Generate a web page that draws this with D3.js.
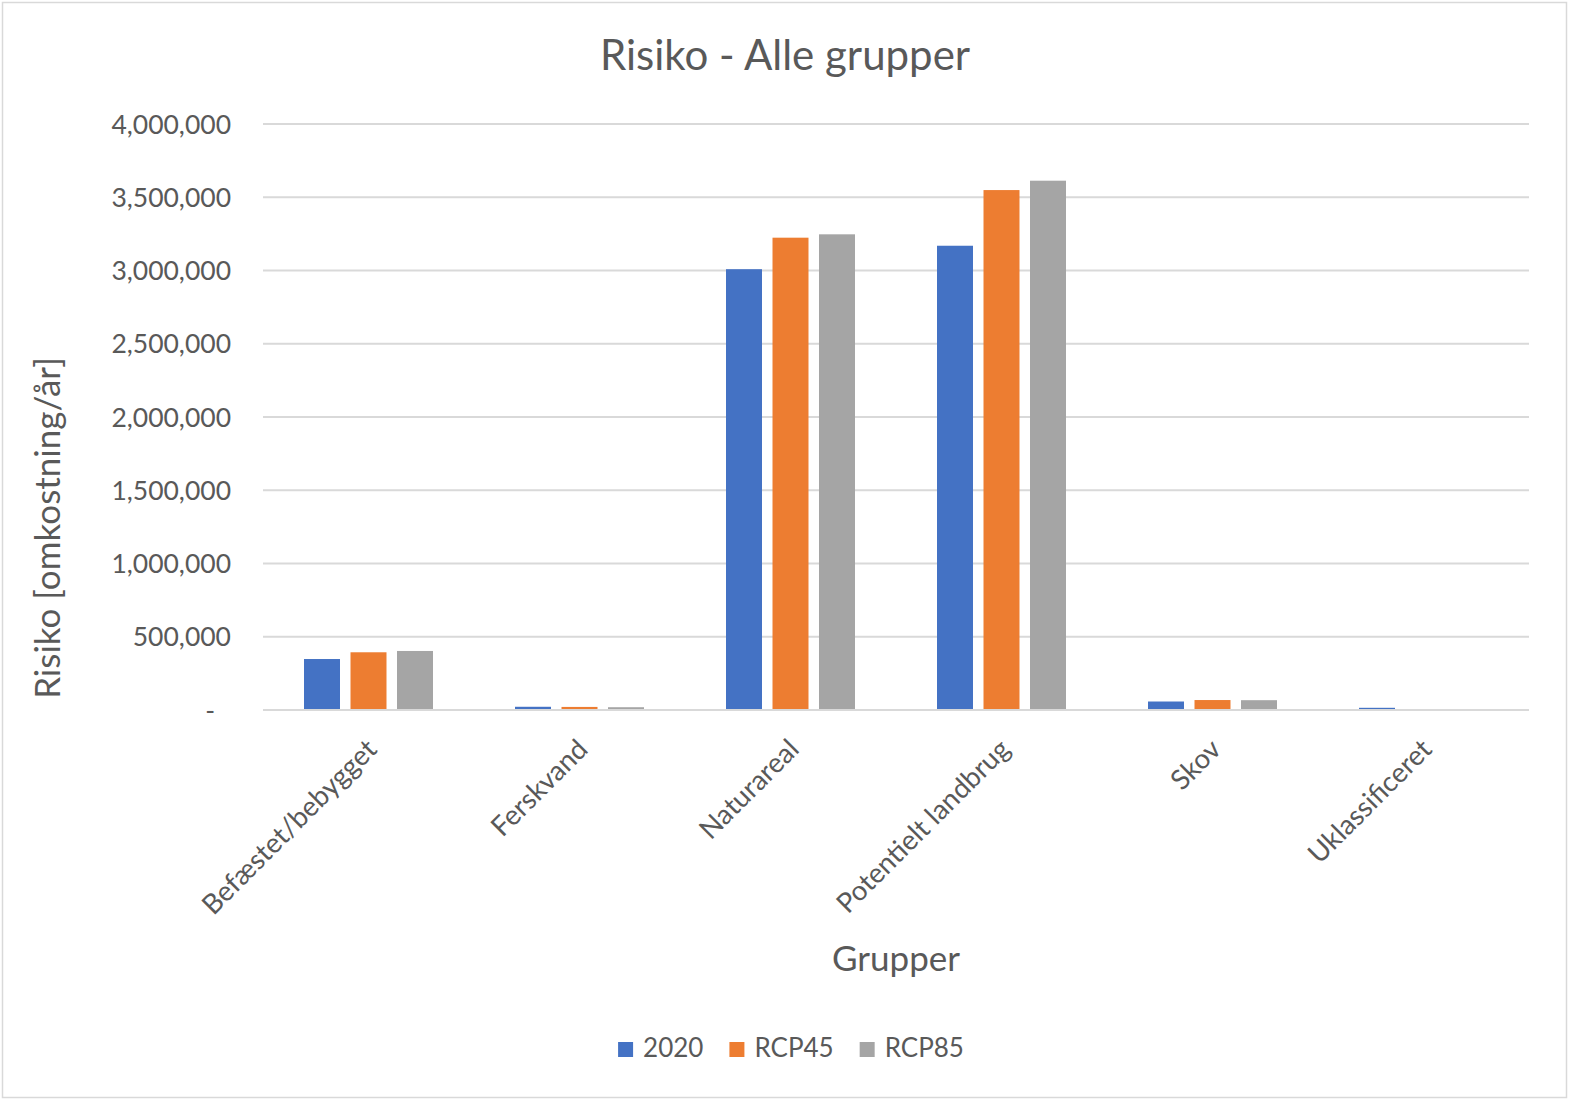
<html>
<head>
<meta charset="utf-8">
<script src="https://cdnjs.cloudflare.com/ajax/libs/d3/7.8.5/d3.min.js"></script>
<style>
  body { margin: 0; background: #fff; }
  text { font-family: Lato, "Open Sans", sans-serif; fill: #595959; }
</style>
</head>
<body>
<div id="chartContainer"></div>
<script>
// Data
var categories = ["Befæstet/bebygget", "Ferskvand", "Naturareal", "Potentielt landbrug", "Skov", "Uklassificeret"];
var seriesNames = ["2020", "RCP45", "RCP85"];
var values2020 = [348000, 22000, 3009000, 3169000, 58000, 15000];
var valuesRCP45 = [394000, 21000, 3224000, 3549000, 68000, 0];
var valuesRCP85 = [403000, 19000, 3247000, 3613000, 67000, 0];
var yTicks = [0, 500000, 1000000, 1500000, 2000000, 2500000, 3000000, 3500000, 4000000];
var colors = ["#4472C4", "#ED7D31", "#A5A5A5"];

var seriesValues = [values2020, valuesRCP45, valuesRCP85];

var width = 1569, height = 1100;
var plot = { left: 263, right: 1529, top: 124, bottom: 710 };

var svg = d3.select("#chartContainer").append("svg")
  .attr("width", width)
  .attr("height", height);

// Chart border
svg.append("rect")
  .attr("x", 2.5).attr("y", 2.5)
  .attr("width", width - 5).attr("height", height - 5)
  .style("fill", "#fff")
  .style("stroke", "#D9D9D9")
  .style("stroke-width", 1.5);

// Scales
var x = d3.scaleBand().domain(categories).range([plot.left, plot.right]);
var groupWidth = 129;
var xInner = d3.scaleBand().domain(seriesNames)
  .range([(x.bandwidth() - groupWidth) / 2, (x.bandwidth() + groupWidth) / 2])
  .paddingInner(0.226);
var y = d3.scaleLinear().domain([0, 4000000]).range([plot.bottom, plot.top]);

// Gridlines
svg.append("g").selectAll("line")
  .data(yTicks.slice(1))
  .enter().append("line")
    .attr("x1", plot.left).attr("x2", plot.right)
    .attr("y1", function (d) { return y(d); })
    .attr("y2", function (d) { return y(d); })
    .style("stroke", "#D9D9D9")
    .style("stroke-width", 2);

// Y tick labels (accounting style, zero shown as "-")
var fmt = d3.format(",");
svg.append("g").selectAll("text")
  .data(yTicks)
  .enter().append("text")
    .attr("x", function (d) { return d === 0 ? 215 : 231; })
    .attr("y", function (d) { return y(d); })
    .attr("dy", "0.36em")
    .attr("text-anchor", "end")
    .style("font-size", "26.5px")
    .text(function (d) { return d === 0 ? "-" : fmt(d); });

// Bars
var groups = svg.append("g").selectAll("g")
  .data(seriesNames)
  .enter().append("g")
    .style("fill", function (d, i) { return colors[i]; });

groups.selectAll("rect")
  .data(function (s, i) {
    return categories.map(function (c, j) { return { cat: c, series: s, value: seriesValues[i][j] }; });
  })
  .enter().append("rect")
    .attr("x", function (d) { return x(d.cat) + xInner(d.series); })
    .attr("width", xInner.bandwidth())
    .attr("y", function (d) { return y(d.value); })
    .attr("height", function (d) { return y(0) - y(d.value); });

// Baseline
svg.append("line")
  .attr("x1", plot.left).attr("x2", plot.right)
  .attr("y1", y(0)).attr("y2", y(0))
  .style("stroke", "#D9D9D9")
  .style("stroke-width", 2);

// X tick labels, rotated
svg.append("g").selectAll("text")
  .data(categories)
  .enter().append("text")
    .attr("transform", function (d) {
      return "translate(" + (x(d) + x.bandwidth() / 2 - 4) + ",737) rotate(-45)";
    })
    .attr("dy", "0.72em")
    .attr("text-anchor", "end")
    .style("font-size", "27.5px")
    .text(function (d) { return d; });

// Title
svg.append("text")
  .attr("x", 785).attr("y", 70)
  .attr("text-anchor", "middle")
  .style("font-size", "42px")
  .text("Risiko - Alle grupper");

// Axis titles
svg.append("text")
  .attr("transform", "translate(60,528) rotate(-90)")
  .attr("text-anchor", "middle")
  .style("font-size", "35px")
  .text("Risiko [omkostning/år]");

svg.append("text")
  .attr("x", 896).attr("y", 971)
  .attr("text-anchor", "middle")
  .style("font-size", "35px")
  .text("Grupper");

// Legend
var legend = svg.append("g");
var items = legend.selectAll("g")
  .data(seriesNames)
  .enter().append("g");
items.append("rect")
  .attr("width", 15).attr("height", 15)
  .attr("y", -15)
  .style("fill", function (d, i) { return colors[i]; });
items.append("text")
  .attr("x", 25)
  .style("font-size", "26px")
  .text(function (d) { return d; });

var offset = 0;
items.each(function () {
  var g = d3.select(this);
  g.attr("transform", "translate(" + offset + ",0)");
  offset += 25 + g.select("text").node().getComputedTextLength() + 26;
});
var legendWidth = offset - 26;
legend.attr("transform", "translate(" + (791 - legendWidth / 2) + ",1057)");
</script>
</body>
</html>
